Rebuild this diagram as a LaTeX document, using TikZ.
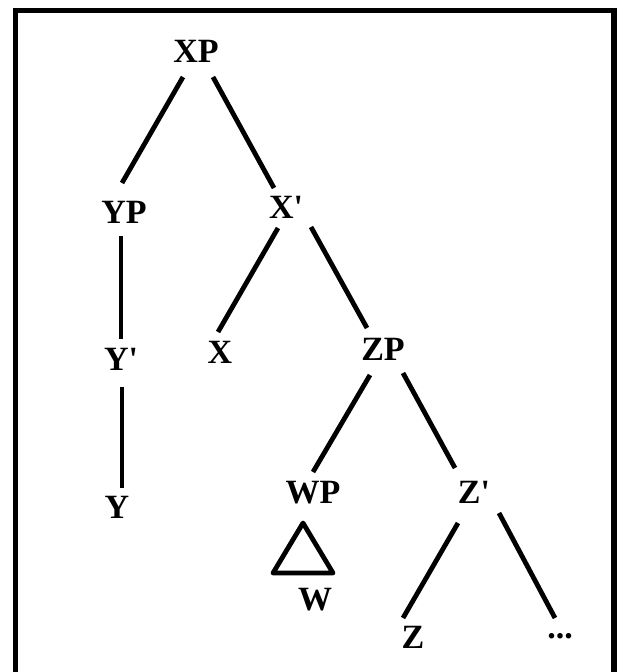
\documentclass[tikz,border=0pt]{standalone}
\usepackage{fontspec}
\setmainfont{Liberation Serif}[Ligatures=TeXOff]
\begin{document}
\begin{tikzpicture}[x=1pt,y=-1pt,
  lbl/.style={inner sep=0pt, outer sep=0pt, text height=21pt, text depth=0pt,
    font=\fontsize{34}{34}\selectfont\bfseries},
  edge/.style={line width=4.8pt},
  frame/.style={line width=5.5pt}]
\useasboundingbox (0,0) rectangle (617,672);
\fill[white] (0,0) rectangle (617,672);
\draw[frame] (15.5,700) -- (15.5,10.5) -- (614,10.5) -- (614,700);
% nodes
\node[lbl] (XP) at (196,52) {XP};
\node[lbl] (YP) at (124,213) {YP};
\node[lbl] (Xb) at (286,208) {X'};
\node[lbl] (Yb) at (121,360) {Y'};
\node[lbl] (X) at (220,353) {X};
\node[lbl] (ZP) at (383,350) {ZP};
\node[lbl] (Y) at (117,508) {Y};
\node[lbl] (WP) at (313,493) {WP};
\node[lbl] (Zb) at (474,493) {Z'};
\node[lbl] (W) at (315,600) {W};
\node[lbl] (Z) at (413,638) {Z};
\node[lbl] (dots) at (560,628) {...};
% connectors
\draw[edge] ([shift={(-13,14.5)}]XP.south) -- ([shift={(-2,-19.5)}]YP.north);
\draw[edge] ([shift={(17,14.5)}]XP.south) -- ([shift={(-12,-9.5)}]Xb.north);
\draw[edge] ([shift={(-3,12.5)}]YP.south) -- ([shift={(0,-10.5)}]Yb.north);
\draw[edge] ([shift={(-8,9.5)}]Xb.south) -- ([shift={(-2,-10.5)}]X.north);
\draw[edge] ([shift={(25,8.5)}]Xb.south) -- ([shift={(-16,-11.5)}]ZP.north);
\draw[edge] ([shift={(1,16.5)}]Yb.south) -- ([shift={(5,-9.5)}]Y.north);
\draw[edge] ([shift={(-13,14.5)}]ZP.south) -- ([shift={(0,-10.5)}]WP.north);
\draw[edge] ([shift={(20,12.5)}]ZP.south) -- ([shift={(-19,-14.5)}]Zb.north);
\draw[edge] ([shift={(-16,19.5)}]Zb.south) -- ([shift={(-10,-9.5)}]Z.north);
\draw[edge] ([shift={(25,9.5)}]Zb.south) -- ([shift={(-5,0.5)}]dots.north);
% triangle under WP
\draw[edge, line join=round, line cap=round]
  ([shift={(-10,19.5)}]WP.south) -- ([shift={(-40,69.5)}]WP.south)
  -- ([shift={(20,69.5)}]WP.south) -- cycle;
\end{tikzpicture}
\end{document}
